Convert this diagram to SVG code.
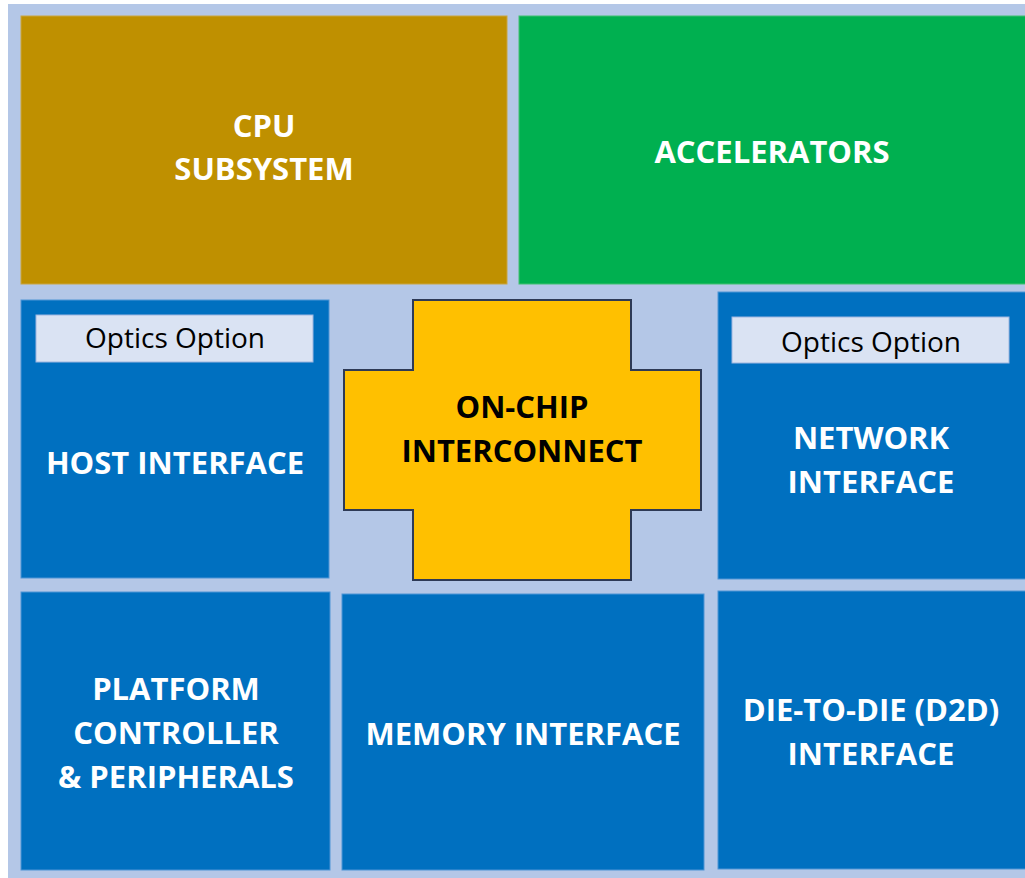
<svg xmlns="http://www.w3.org/2000/svg" width="1025" height="878" viewBox="0 0 1025 878">
  <style>
    .blk { stroke-width: 1; }
    .blue { fill: #0070C0; stroke: #4F95D6; }
    .hdr { font-family: "Open Sans", "Liberation Sans", sans-serif; font-weight: 700; font-size: 31px; fill: #FFFFFF; text-anchor: middle; }
    .hdr.dark { fill: #000000; }
    .opt { fill: #DAE3F3; stroke: #9DB5DF; stroke-width: 1; }
    .opt-t { font-family: "Open Sans", "Liberation Sans", sans-serif; font-size: 28px; fill: #000000; text-anchor: middle; }
  </style>

  <!-- die background -->
  <rect x="0" y="0" width="1025" height="878" fill="#FFFFFF"/>
  <rect id="die" x="8" y="4" width="1017" height="874" fill="#B4C7E7"/>

  <g id="cpu-subsystem">
    <rect class="blk" x="21" y="16" width="486" height="268" fill="#BF9000" stroke="#C9A540"/>
    <text class="hdr" x="264" y="137">CPU</text>
    <text class="hdr" x="264" y="180">SUBSYSTEM</text>
  </g>

  <g id="accelerators">
    <rect class="blk" x="519" y="16" width="510" height="268" fill="#00B050" stroke="#40C070"/>
    <text class="hdr" x="772" y="163">ACCELERATORS</text>
  </g>

  <g id="host-interface">
    <rect class="blk blue" x="21" y="300" width="308" height="278"/>
    <rect class="opt" x="36" y="315" width="277" height="47"/>
    <text class="opt-t" x="175" y="348">Optics Option</text>
    <text class="hdr" x="175" y="474">HOST INTERFACE</text>
  </g>

  <g id="on-chip-interconnect">
    <path d="M413 300 H631 V370 H701 V510 H631 V580 H413 V510 H344 V370 H413 Z" fill="#FFC000" stroke="#2E3A56" stroke-width="2"/>
    <text class="hdr dark" x="522" y="418">ON-CHIP</text>
    <text class="hdr dark" x="522" y="462">INTERCONNECT</text>
  </g>

  <g id="network-interface">
    <rect class="blk blue" x="718" y="292" width="311" height="287"/>
    <rect class="opt" x="732" y="317" width="277" height="46"/>
    <text class="opt-t" x="871" y="352">Optics Option</text>
    <text class="hdr" x="871" y="449">NETWORK</text>
    <text class="hdr" x="871" y="493">INTERFACE</text>
  </g>

  <g id="platform-controller">
    <rect class="blk blue" x="21" y="592" width="309" height="278"/>
    <text class="hdr" x="176" y="700">PLATFORM</text>
    <text class="hdr" x="176" y="744">CONTROLLER</text>
    <text class="hdr" x="176" y="788">&amp; PERIPHERALS</text>
  </g>

  <g id="memory-interface">
    <rect class="blk blue" x="342" y="594" width="362" height="276"/>
    <text class="hdr" x="523" y="745">MEMORY INTERFACE</text>
  </g>

  <g id="d2d-interface">
    <rect class="blk blue" x="718" y="591" width="311" height="278"/>
    <text class="hdr" x="871" y="721">DIE-TO-DIE (D2D)</text>
    <text class="hdr" x="871" y="765">INTERFACE</text>
  </g>

  <!-- blocks abut directly; no connector lines are drawn -->
  <g id="connectors"/>
</svg>
